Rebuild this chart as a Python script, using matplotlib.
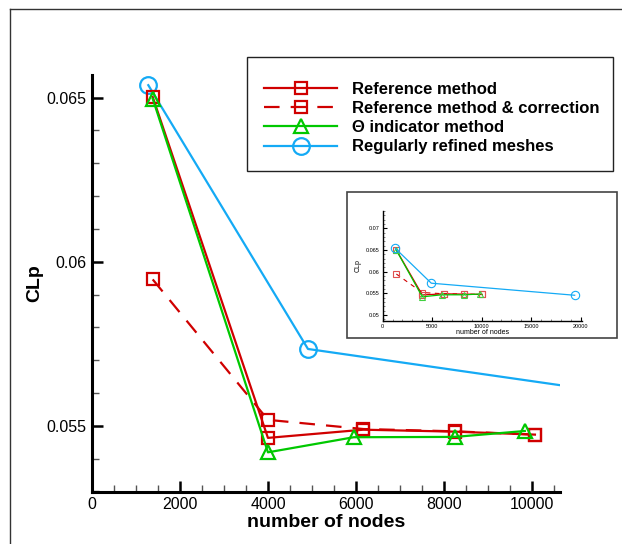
import matplotlib
matplotlib.use("Agg")
import matplotlib.pyplot as plt
from matplotlib.lines import Line2D
from matplotlib.patches import Rectangle
from matplotlib.ticker import MultipleLocator

plt.rcParams['font.family'] = ['Liberation Sans', 'DejaVu Sans']

# ---- data ----
ref_x = [1380, 4000, 6170, 8250, 10070]
ref_y = [0.06502, 0.05463, 0.05488, 0.05482, 0.05473]
cor_x = [1380, 4000, 6170, 8250, 10070]
cor_y = [0.05946, 0.05518, 0.05490, 0.05483, 0.05473]
theta_x = [1380, 4000, 5950, 8250, 9840]
theta_y = [0.06497, 0.05419, 0.05465, 0.05466, 0.05484]
reg_x = [1280, 4910, 19400]
reg_y = [0.06538, 0.05734, 0.05455]

labels = ["Reference method", "Reference method & correction",
          "\u0398 indicator method", "Regularly refined meshes"]
main_xticks = [0, 2000, 4000, 6000, 8000, 10000]
main_yticks = [0.055, 0.06, 0.065]
main_ytick_labels = ["0.055", "0.06", "0.065"]
inset_xticks = [0, 5000, 10000, 15000, 20000]
inset_yticks = [0.05, 0.055, 0.06, 0.065, 0.07]
inset_ytick_labels = ["0.05", "0.055", "0.06", "0.065", "0.07"]

RED = '#d00000'
GREEN = '#00c800'
BLUE = '#14aaf5'

W, H = 622, 544
fig = plt.figure(figsize=(W / 100, H / 100), dpi=100)

def fx(px):
    return px / W

def fy(py):
    return 1 - py / H

# outer frame (left and top edges visible)
fig.add_artist(Line2D([fx(10), fx(10)], [fy(9), fy(548)], transform=fig.transFigure,
                      color='#333333', lw=1.0))
fig.add_artist(Line2D([fx(10), fx(626)], [fy(9), fy(9)], transform=fig.transFigure,
                      color='#333333', lw=1.0))

# ---- main axes ----
ax = fig.add_axes([fx(92), fy(491.7), fx(560) - fx(92), fy(75) - fy(491.7)])
ms_lw = 1.6
ax.plot(cor_x, cor_y, color=RED, lw=1.6, dashes=[7, 5], marker='s', ms=9,
        mfc='none', mec=RED, mew=ms_lw, label=labels[1], zorder=3)
ax.plot(ref_x, ref_y, color=RED, lw=1.6, marker='s', ms=9,
        mfc='none', mec=RED, mew=ms_lw, label=labels[0], zorder=4)
ax.plot(theta_x, theta_y, color=GREEN, lw=1.6, marker='^', ms=10,
        mfc='none', mec=GREEN, mew=ms_lw, label=labels[2], zorder=5)
ax.plot(reg_x, reg_y, color=BLUE, lw=1.6, marker='o', ms=12,
        mfc='none', mec=BLUE, mew=ms_lw, label=labels[3], zorder=2)

ax.set_xlim(0, 10640)
ax.set_ylim(0.05299, 0.06569)
for s in ['top', 'right']:
    ax.spines[s].set_visible(False)
for s in ['left', 'bottom']:
    ax.spines[s].set_linewidth(2.2)
ax.set_xticks(main_xticks)
ax.set_yticks(main_yticks)
ax.set_yticklabels(main_ytick_labels)
ax.xaxis.set_minor_locator(MultipleLocator(500))
ax.yaxis.set_minor_locator(MultipleLocator(0.001))
ax.tick_params(which='major', direction='in', length=8, width=1.8, labelsize=11.5, pad=4)
ax.tick_params(which='minor', direction='in', length=5, width=1.0, color='#555555')
ax.set_xlabel("number of nodes", fontsize=14, fontweight='bold', labelpad=1)
ax.set_ylabel("CLp", fontsize=14, fontweight='bold', labelpad=2)

# ---- legend ----
fig.add_artist(Rectangle((fx(247), fy(171)), fx(613) - fx(247), fy(57) - fy(171),
                         transform=fig.transFigure, fill=True, facecolor='white',
                         edgecolor='#222222', lw=1.0, zorder=5))
h, l = ax.get_legend_handles_labels()
order = [1, 0, 2, 3]
leg = fig.legend([h[i] for i in order], [l[i] for i in order],
                 loc='upper left', bbox_to_anchor=(fx(264), fy(81.5)),
                 bbox_transform=fig.transFigure, frameon=False, numpoints=1,
                 handlelength=4.4, handletextpad=0.85, labelspacing=0.26,
                 borderpad=0.0, borderaxespad=0.0,
                 prop={'weight': 'bold', 'size': 12})
leg.set_zorder(7)

# ---- inset ----
fig.add_artist(Rectangle((fx(347), fy(338)), fx(617) - fx(347), fy(192) - fy(338),
                         transform=fig.transFigure, fill=True, facecolor='white',
                         edgecolor='#444444', lw=1.2, zorder=5))
ia = fig.add_axes([fx(382.7), fy(321), fx(582) - fx(382.7), fy(210.7) - fy(321)], zorder=6)
ia.patch.set_alpha(0)
ia.plot(cor_x, cor_y, color=RED, lw=0.8, dashes=[4, 4], marker='s', ms=4,
        mfc='none', mec='#e05050', mew=0.8)
ia.plot(ref_x, ref_y, color=RED, lw=0.9, marker='s', ms=4,
        mfc='none', mec='#e05050', mew=0.8)
ia.plot(theta_x, theta_y, color=GREEN, lw=0.9, marker='^', ms=4.5,
        mfc='none', mec='#40d040', mew=0.8)
ia.plot(reg_x, reg_y, color=BLUE, lw=0.9, marker='o', ms=6,
        mfc='none', mec=BLUE, mew=0.8)
ia.set_xlim(0, 20140)
ia.set_ylim(0.0486, 0.0741)
for s in ['top', 'right']:
    ia.spines[s].set_visible(False)
for s in ['left', 'bottom']:
    ia.spines[s].set_linewidth(1.0)
ia.set_xticks(inset_xticks)
ia.set_yticks(inset_yticks)
ia.set_yticklabels(inset_ytick_labels)
ia.xaxis.set_minor_locator(MultipleLocator(1000))
ia.yaxis.set_minor_locator(MultipleLocator(0.001))
ia.tick_params(which='major', direction='in', length=3, width=0.8, labelsize=4, pad=2)
ia.tick_params(which='minor', direction='in', length=1.5, width=0.5, color='#555555')
ia.set_xlabel("number of nodes", fontsize=5, labelpad=0)
ia.set_ylabel("CLp", fontsize=5, labelpad=3)

fig.savefig("out.png", dpi=100)
